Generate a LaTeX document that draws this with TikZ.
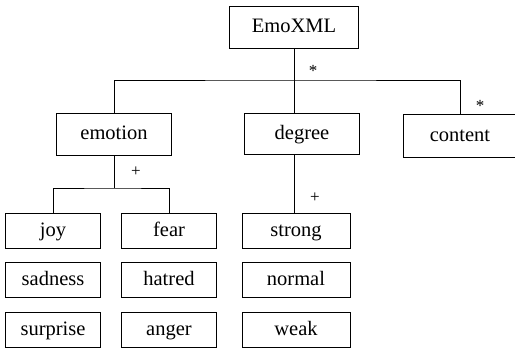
\documentclass[tikz,border=0pt]{standalone}
\usepackage{fontspec}
\setmainfont{Liberation Serif}
\usepackage{tikz}
\usetikzlibrary{calc}

\tikzset{
  box/.style={draw,rectangle,inner sep=0pt,text height=1.05em,text depth=0em,
    font=\fontsize{20.5}{24}\selectfont},
  bigbox/.style={box,minimum width=115pt,minimum height=42pt},
  leafbox/.style={box,minimum width=95pt,minimum height=35pt},
  degbox/.style={box,minimum width=108pt,minimum height=35pt},
  mult/.style={font=\fontsize{17}{20}\selectfont}
}

\begin{document}
\begin{tikzpicture}[x=1pt, y=-1pt, line width=0.9pt]
  \useasboundingbox (0,0) rectangle (515,350);

  \node[box,minimum width=129pt,minimum height=42pt] (emoxml) at (294, 27) {EmoXML};
  \node[bigbox] (emotion) at (114, 134) {emotion};
  \node[bigbox,minimum height=41pt] (degree) at (302, 134) {degree};
  \node[bigbox,minimum width=113pt,minimum height=43pt] (content) at (460, 136) {content};
  \coordinate (bar) at (294, 80);
  \path (emoxml) edge (bar);
  \draw (emotion.north) |- (bar) -| (content.north);
  \draw (bar) -- (bar |- degree.north);
  \node[mult] (star1) at (313, 71) {*};
  \node[mult] (star2) at (480, 106) {*};

  % emotion values
  \node[leafbox] (joy) at (53, 231) {joy};
  \node[leafbox] (fear) at (169, 231) {fear};
  \node[leafbox] (sadness) at (53, 280) {sadness};
  \node[leafbox] (hatred) at (169, 280) {hatred};
  \node[leafbox] (surprise) at (53, 330) {surprise};
  \node[leafbox] (anger) at (169, 330) {anger};
  \coordinate (ebar) at (114, 188);
  \path (emotion) edge (ebar);
  \draw (joy.north) |- (ebar) -| (fear.north);
  \node[mult] (plus1) at (136, 172) {+};

  % degree values
  \node[degbox] (strong) at (296, 231) {strong};
  \node[degbox] (normal) at (296, 280) {normal};
  \node[degbox] (weak) at (296, 330) {weak};
  \draw (degree.south -| bar) -- (strong.north -| bar);
  \node[mult] (plus2) at (315, 198) {+};
\end{tikzpicture}
\end{document}
